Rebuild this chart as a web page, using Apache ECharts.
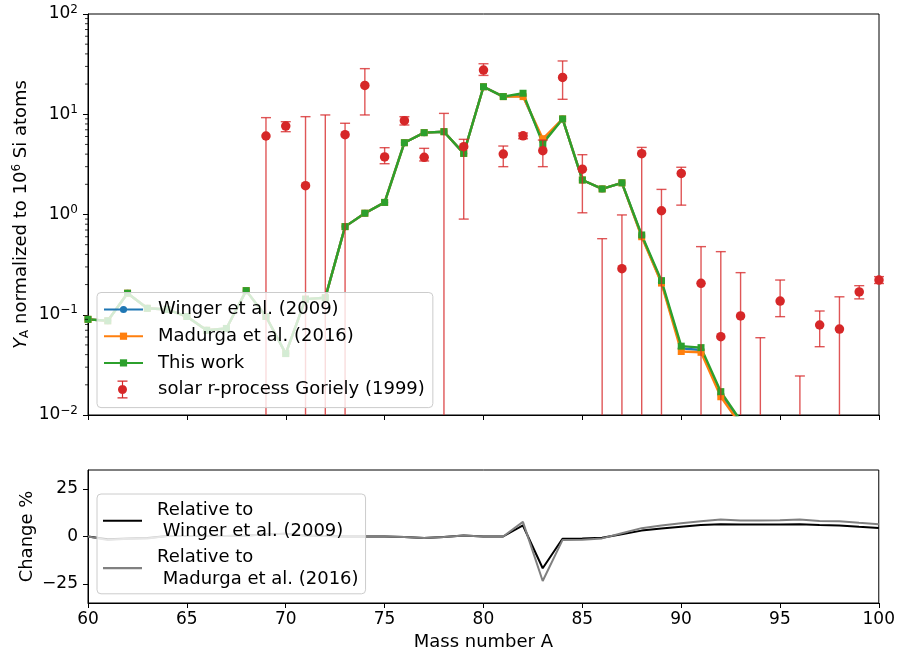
<!DOCTYPE html>
<html><head><meta charset="utf-8">
<script src="https://cdn.jsdelivr.net/npm/echarts@6/dist/echarts.min.js"></script>
<style>html,body{margin:0;padding:0;background:#fff}#chart{width:898px;height:657px}</style>
</head><body><div id="chart"></div>
<script>
// ---------------- data ----------------
const massNumbers = [60,61,62,63,64,65,66,67,68,69,70,71,72,73,74,75,76,77,78,79,80,81,82,83,84,85,86,87,88,89,90,91,92,93,94,95,96,97,98,99,100];
const wingerY   = [0.090,0.087,0.164,0.116,0.113,0.096,0.070,0.073,0.174,0.096,0.041,0.143,0.148,0.757,1.03,1.32,5.2,6.55,6.7,4.07,18.8,15.0,15.3,5.4,8.98,2.21,1.80,2.07,0.61,0.211,0.0462,0.0445,0.0161,0.0083,0.0042,0.0022,0.0012,0.00065,0.00037,0.00019,0.0001];
const madurgaY  = [0.090,0.087,0.164,0.116,0.113,0.096,0.070,0.073,0.174,0.096,0.041,0.143,0.148,0.757,1.03,1.32,5.2,6.55,6.7,4.07,18.8,15.0,15.0,5.7,8.98,2.21,1.80,2.07,0.60,0.207,0.0430,0.0422,0.0152,0.0080,0.0041,0.0022,0.0012,0.00064,0.00037,0.00019,0.0001];
const thisWorkY = [0.090,0.087,0.164,0.116,0.113,0.096,0.070,0.073,0.174,0.096,0.041,0.143,0.148,0.757,1.03,1.32,5.2,6.55,6.7,4.07,18.8,15.0,16.2,5.1,8.98,2.21,1.80,2.07,0.625,0.219,0.0486,0.047,0.0171,0.0088,0.0045,0.0024,0.0013,0.0007,0.0004,0.0002,0.0001];

// solar r-process (Goriely 1999): value, lower bound, upper bound (null value = below axis, 0 lower = extends below axis)
const solarA    = [69,70,71,72,73,74,75,76,77,78,79,80,81,82,83,84,85,86,87,88,89,90,91,92,93,94,95,96,97,98,99,100];
const solarY    = [6.07,7.63,1.94,null,6.25,19.4,3.75,8.63,3.72,null,4.75,27.6,4.01,6.1,4.33,23.3,2.83,null,0.288,4.04,1.09,2.57,0.206,0.0604,0.0973,null,0.137,null,0.079,0.072,0.169,0.222];
const solarLow  = [0,6.7,0,0,0,9.84,3.21,7.81,3.42,0,0.90,24.4,3.0,5.7,3.0,14.1,1.04,0,0,0,0,1.24,0,0,0,0,0.0957,0,0.048,0,0.144,0.205];
const solarHigh = [9.25,8.43,9.46,9.84,8.13,28.5,4.64,9.46,4.57,10.2,5.62,31.9,4.82,6.5,5.53,34.0,3.95,0.574,0.99,4.67,1.78,2.96,0.478,0.426,0.263,0.059,0.222,0.0245,0.109,0.151,0.195,0.24];

// change in percent (bottom panel)
const changeWinger  = [0,-1.5,-1.0,-0.8,0.2,0.3,0.2,0.2,0.5,1.0,1.5,0.5,0.2,0,0,0,-0.3,-0.8,-0.2,0.5,0,0,5.8,-16.7,-1.2,-1.0,-0.7,1.2,3.1,4.2,5.1,6.0,6.5,6.3,6.3,6.3,6.5,6.0,5.8,5.1,4.5];
const changeMadurga = [0,-1.9,-1.2,-1.0,0.2,0.3,0.2,0.2,0.5,1.0,1.5,0.5,0.2,0,0,0,-0.3,-0.8,-0.2,0.5,0,0,7.7,-23.4,-1.9,-1.7,-1.0,1.7,4.4,5.8,7.0,8.0,9.0,8.4,8.4,8.6,9.0,8.2,8.0,7.2,6.5];

// axes
const xMin = 60, xMax = 100, xStep = 5;
const yLogMin = 0.01, yLogMax = 100;
const minorTickValues = [0.02,0.03,0.04,0.05,0.06,0.07,0.08,0.09,0.2,0.3,0.4,0.5,0.6,0.7,0.8,0.9,2,3,4,5,6,7,8,9,20,30,40,50,60,70,80,90];
const changeMin = -35, changeMax = 35;
const changeTicks = [-25, 0, 25];

// ---------------- chart ----------------
const FONT = 'DejaVu Sans';
const chart = echarts.init(document.getElementById('chart'), null, {renderer: 'canvas'});
const pairs = ys => massNumbers.map((a, i) => [a, ys[i]]);
const minus = s => String(s).replace('-', '\u2212');

const lineCommon = {
  type: 'line', xAxisIndex: 0, yAxisIndex: 0, symbolSize: 7, showAllSymbol: true,
  lineStyle: {width: 2.4}, emphasis: {disabled: true}, clip: true, z: 2
};

const errColor = 'rgba(214,39,40,0.78)';
const errIcon = 'path://M0,0H10V1.3H0Z M0,16.7H10V18H0Z M4.4,0H5.6V18H4.4Z M0.5,9A4.5,4.5 0 1 1 9.5,9A4.5,4.5 0 1 1 0.5,9Z';
const lineIcon = 'path://M0,0H40V2.2H0Z';

const option = {
  animation: false,
  backgroundColor: '#fff',
  textStyle: {fontFamily: FONT, color: '#000'},
  grid: [
    {left: 88, top: 14, width: 791, height: 401, show: true, borderColor: '#000', borderWidth: 1, backgroundColor: 'transparent'},
    {left: 88, top: 470, width: 791, height: 133, show: true, borderColor: '#000', borderWidth: 1, backgroundColor: 'transparent'}
  ],
  xAxis: [
    {type: 'value', gridIndex: 0, min: xMin, max: xMax, interval: xStep,
     axisLine: {show: true, onZero: false, lineStyle: {color: '#000', width: 1}},
     axisTick: {show: true, length: 5, lineStyle: {color: '#000'}},
     axisLabel: {show: false}, splitLine: {show: false}},
    {type: 'value', gridIndex: 1, min: xMin, max: xMax, interval: xStep,
     name: 'Mass number A', nameLocation: 'middle', nameGap: 30, nameMoveOverlap: false,
     nameTextStyle: {fontSize: 18, fontFamily: FONT, color: '#000'},
     axisLine: {show: true, onZero: false, lineStyle: {color: '#000', width: 1}},
     axisTick: {show: true, length: 5, lineStyle: {color: '#000'}},
     axisLabel: {show: true, fontSize: 17, fontFamily: FONT, color: '#000', margin: 8},
     splitLine: {show: false}}
  ],
  yAxis: [
    {type: 'log', logBase: 10, gridIndex: 0, min: yLogMin, max: yLogMax,
     name: '{i|Y}{sub|A} normalized to 10{sup|6} Si atoms', nameLocation: 'middle', nameGap: 57, nameRotate: 90, nameMoveOverlap: false,
     nameTextStyle: {fontSize: 18, fontFamily: FONT, color: '#000',
       rich: {i: {fontSize: 18, fontStyle: 'italic', fontFamily: FONT},
              sub: {fontSize: 12, fontFamily: FONT, padding: [7, 0, 0, 0]},
              sup: {fontSize: 12, fontFamily: FONT, padding: [0, 0, 8, 0]}}},
     axisLine: {show: true, onZero: false, lineStyle: {color: '#000', width: 1}},
     axisTick: {show: true, length: 5, lineStyle: {color: '#000'}},
     axisLabel: {show: true, margin: 10, color: '#000',
       formatter: v => '{b|10}{s|' + minus(Math.round(Math.log10(v))) + '}',
       rich: {b: {fontSize: 17, fontFamily: FONT, color: '#000'},
              s: {fontSize: 12, fontFamily: FONT, color: '#000', padding: [0, 0, 9, 0]}}},
     splitLine: {show: false}},
    {type: 'value', gridIndex: 1, min: changeMin, max: changeMax,
     name: 'Change %', nameLocation: 'middle', nameGap: 52, nameRotate: 90, nameMoveOverlap: false,
     nameTextStyle: {fontSize: 18, fontFamily: FONT, color: '#000'},
     axisLine: {show: true, onZero: false, lineStyle: {color: '#000', width: 1}},
     axisTick: {show: true, length: 5, customValues: changeTicks, lineStyle: {color: '#000'}},
     axisLabel: {show: true, fontSize: 17, fontFamily: FONT, color: '#000', margin: 10, customValues: changeTicks,
       formatter: v => minus(v)},
     splitLine: {show: false}}
  ],
  legend: [
    {orient: 'vertical', left: 97, top: 292.5, padding: [7, 8, 8, 6], itemWidth: 39, itemHeight: 9, itemGap: 6.7,
     selectedMode: false, backgroundColor: 'rgba(255,255,255,0.8)', borderColor: '#cccccc', borderWidth: 1, borderRadius: 4,
     textStyle: {fontSize: 18, fontFamily: FONT, color: '#000', lineHeight: 20, padding: [0, 0, 0, 10]},
     data: ['Winger et al. (2009)', 'Madurga et al. (2016)', 'This work',
            {name: 'solar r-process Goriely (1999)', icon: 'rect', itemStyle: {opacity: 0}}], z: 4},
    {orient: 'vertical', left: 103, top: 380.5, padding: 0, itemWidth: 39, itemHeight: 18, selectedMode: false,
     formatter: () => '', textStyle: {fontSize: 1},
     data: [{name: 'solar r-process Goriely (1999)', icon: errIcon, itemStyle: {color: '#d62728'}}], z: 5},
    {orient: 'vertical', left: 97, top: 494, padding: [5, 7, 4, 6], itemWidth: 39, itemHeight: 9, itemGap: 4,
     selectedMode: false, backgroundColor: 'rgba(255,255,255,0.8)', borderColor: '#cccccc', borderWidth: 1, borderRadius: 4,
     textStyle: {fontSize: 18, fontFamily: FONT, color: '#000', lineHeight: 21.7, padding: [0, 0, 0, 10]},
     data: [{name: 'Relative to\n Winger et al. (2009)', icon: lineIcon},
            {name: 'Relative to\n Madurga et al. (2016)', icon: lineIcon}], z: 4}
  ],
  series: [
    Object.assign({}, lineCommon, {name: 'Winger et al. (2009)', symbol: 'circle', itemStyle: {color: '#1f77b4'}, data: pairs(wingerY)}),
    Object.assign({}, lineCommon, {name: 'Madurga et al. (2016)', symbol: 'rect', itemStyle: {color: '#ff7f0e'}, data: pairs(madurgaY)}),
    Object.assign({}, lineCommon, {name: 'This work', symbol: 'rect', itemStyle: {color: '#2ca02c'}, data: pairs(thisWorkY)}),
    {type: 'custom', name: 'solar errors', xAxisIndex: 0, yAxisIndex: 0, silent: true, z: 3,
     encode: {x: 0, y: 3},
     data: solarA.map((a, i) => [a, solarY[i] === null ? '-' : solarY[i], solarLow[i], solarHigh[i]]),
     renderItem: (params, api) => {
       const x = api.value(0), lo = api.value(2), hi = api.value(3);
       const loC = lo > yLogMin ? lo : yLogMin;
       const hiC = hi < yLogMax ? hi : yLogMax;
       const pLo = api.coord([x, loC]), pHi = api.coord([x, hiC]);
       const st = {stroke: errColor, lineWidth: 1.4};
       const children = [{type: 'line', shape: {x1: pLo[0], y1: pLo[1], x2: pHi[0], y2: pHi[1]}, style: st}];
       const hw = 5;
       if (hi < yLogMax) children.push({type: 'line', shape: {x1: pHi[0] - hw, y1: pHi[1], x2: pHi[0] + hw, y2: pHi[1]}, style: st});
       if (lo > yLogMin) children.push({type: 'line', shape: {x1: pLo[0] - hw, y1: pLo[1], x2: pLo[0] + hw, y2: pLo[1]}, style: st});
       return {type: 'group', children};
     }},
    {type: 'scatter', name: 'solar r-process Goriely (1999)', xAxisIndex: 0, yAxisIndex: 0, symbol: 'circle', symbolSize: 9.5,
     itemStyle: {color: '#d62728', opacity: 1}, emphasis: {disabled: true}, z: 4, clip: true,
     data: solarA.map((a, i) => [a, solarY[i] === null ? '-' : solarY[i]])},
    {type: 'custom', name: 'minor ticks', xAxisIndex: 0, yAxisIndex: 0, silent: true, clip: false, z: 5,
     data: minorTickValues.map(v => [xMin, v]),
     renderItem: (params, api) => {
       const p = api.coord([xMin, api.value(1)]);
       return {type: 'line', shape: {x1: p[0] - 3, y1: p[1], x2: p[0], y2: p[1]}, style: {stroke: '#000', lineWidth: 0.8}};
     }},
    {type: 'line', name: 'Relative to\n Winger et al. (2009)', xAxisIndex: 1, yAxisIndex: 1, symbol: 'none',
     lineStyle: {width: 2, color: '#000'}, itemStyle: {color: '#000'}, emphasis: {disabled: true}, data: pairs(changeWinger), z: 2},
    {type: 'line', name: 'Relative to\n Madurga et al. (2016)', xAxisIndex: 1, yAxisIndex: 1, symbol: 'none',
     lineStyle: {width: 2, color: '#808080'}, itemStyle: {color: '#808080'}, emphasis: {disabled: true}, data: pairs(changeMadurga), z: 2}
  ]
};
chart.setOption(option);
</script>
</body></html>
